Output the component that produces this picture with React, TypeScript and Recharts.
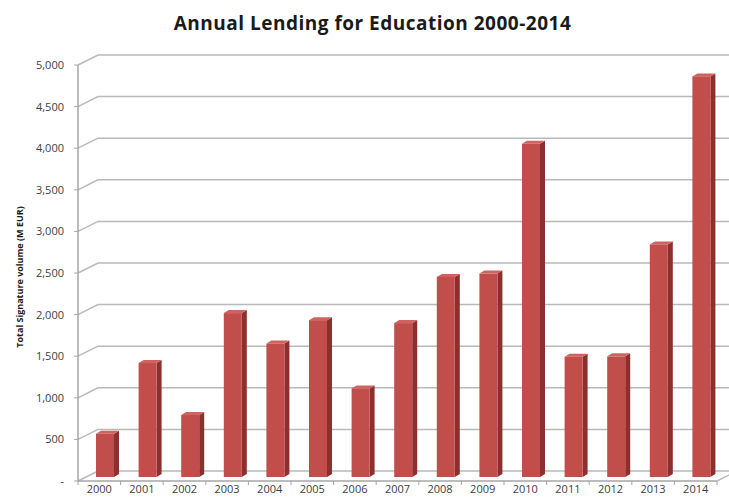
import React from 'react';
import { BarChart, Bar, XAxis, YAxis, CartesianGrid } from 'recharts';

// Education lending per year (M EUR)
const years = ['2000', '2001', '2002', '2003', '2004', '2005', '2006', '2007', '2008', '2009', '2010', '2011', '2012', '2013', '2014'];
const lending = [520, 1370, 745, 1970, 1605, 1885, 1065, 1850, 2405, 2445, 4005, 1445, 1450, 2795, 4815];
const yTicks = [0, 500, 1000, 1500, 2000, 2500, 3000, 3500, 4000, 4500, 5000];

const data = years.map((year, i) => ({ year, value: lending[i] }));

const W = 729;
const H = 497;
const M = { top: 65, right: 12, bottom: 0, left: 0 };
const Y_AXIS_W = 78;
const X_AXIS_H = 16;
const BAND = (W - M.right - Y_AXIS_W) / years.length;

// depth of the walls (side wall + back wall) and of each bar
const WALL_DX = 20;
const WALL_DY = 10;
const BAR_DX = 5;
const BAR_DY = 3;
const GRID = '#b9b9b9';
const AXIS = '#a6a6a6';
const TEXT = '#404040';

// gridline on the side wall then along the back wall
function WallLine(props: any) {
  const { x1, y1, x2, index } = props;
  const isFloor = Math.abs(y1 - (H - X_AXIS_H)) < 0.5;
  const d = `M${x1},${y1} L${x1 + WALL_DX},${y1 - WALL_DY} L${x2 + 40},${y1 - WALL_DY}`;
  return (
    <g key={`wall-${index}`}>
      <path d={d} stroke={GRID} strokeWidth={1.5} fill="none" />
      {isFloor && (
        <path d={`M${x2},${y1} L${x2 + WALL_DX},${y1 - WALL_DY}`} stroke={GRID} strokeWidth={1.5} fill="none" />
      )}
    </g>
  );
}

// fake 3D column: front face, right side, top
function Column3D(props: any) {
  const { x, y, width, height } = props;
  if (height == null || height <= 0) return null;
  const fx = x + 6;
  const fy = y - 4;
  const side = `${fx + width},${fy} ${fx + width + BAR_DX},${fy - BAR_DY} ${fx + width + BAR_DX},${fy + height - BAR_DY} ${fx + width},${fy + height}`;
  const top = `${fx},${fy} ${fx + BAR_DX},${fy - BAR_DY} ${fx + width + BAR_DX},${fy - BAR_DY} ${fx + width},${fy}`;
  return (
    <g>
      <polygon points={side} fill="#8b302e" />
      <polygon points={top} fill="#d0625f" />
      <rect x={fx} y={fy} width={width} height={height} fill="#c24e4b" />
    </g>
  );
}

function YearTick(props: any) {
  const { x, y, payload, index } = props;
  const left = x - BAND / 2;
  return (
    <g>
      <line x1={left} y1={y} x2={left} y2={y + 4} stroke={AXIS} />
      {index === years.length - 1 && (
        <line x1={x + BAND / 2} y1={y} x2={x + BAND / 2} y2={y + 4} stroke={AXIS} />
      )}
      <text x={x} y={y} dy={12} textAnchor="middle" fontSize={11} fill={TEXT} fontFamily="'Open Sans', sans-serif">
        {payload.value}
      </text>
    </g>
  );
}

function YLabel(props: any) {
  const vb = props.viewBox || {};
  const cy = (vb.y ?? M.top) + (vb.height ?? 416) / 2 + 4;
  return (
    <text
      x={19}
      y={cy}
      transform={`rotate(-90, 19, ${cy})`}
      textAnchor="middle"
      dominantBaseline="central"
      fontSize={9}
      fontWeight="bold"
      fill="#1a1a1a"
      fontFamily="'Open Sans', sans-serif"
    >
      Total Signature volume (M EUR)
    </text>
  );
}

export default function App() {
  return (
    <div style={{ position: 'absolute', left: 0, top: 0, width: W, height: H, background: '#fff', fontFamily: "'Open Sans', sans-serif" }}>
      <div style={{
        position: 'absolute', top: 10, left: 0, width: 745, textAlign: 'center',
        fontSize: 19, fontWeight: 'bold', color: '#1a1a1a', lineHeight: 'normal', letterSpacing: 0.5,
      }}>
        Annual Lending for Education 2000-2014
      </div>
      <BarChart width={W} height={H} data={data} margin={M} barSize={18}>
        <CartesianGrid horizontal={WallLine} vertical={false} />
        <XAxis
          dataKey="year"
          height={X_AXIS_H}
          tick={<YearTick />}
          tickLine={false}
          tickSize={0}
          tickMargin={0}
          axisLine={{ stroke: AXIS, strokeWidth: 1.5 }}
          interval={0}
        />
        <YAxis
          width={Y_AXIS_W}
          domain={[0, 5000]}
          ticks={yTicks}
          interval={0}
          tickSize={4}
          tickMargin={10}
          tickLine={{ stroke: AXIS }}
          axisLine={{ stroke: AXIS, strokeWidth: 1.5 }}
          tick={{ fontSize: 11, fill: TEXT, fontFamily: "'Open Sans', sans-serif" }}
          tickFormatter={(v: number) => (v === 0 ? '-' : v.toLocaleString('en-US'))}
          label={<YLabel />}
        />
        <Bar dataKey="value" shape={<Column3D />} isAnimationActive={false} />
      </BarChart>
    </div>
  );
}
